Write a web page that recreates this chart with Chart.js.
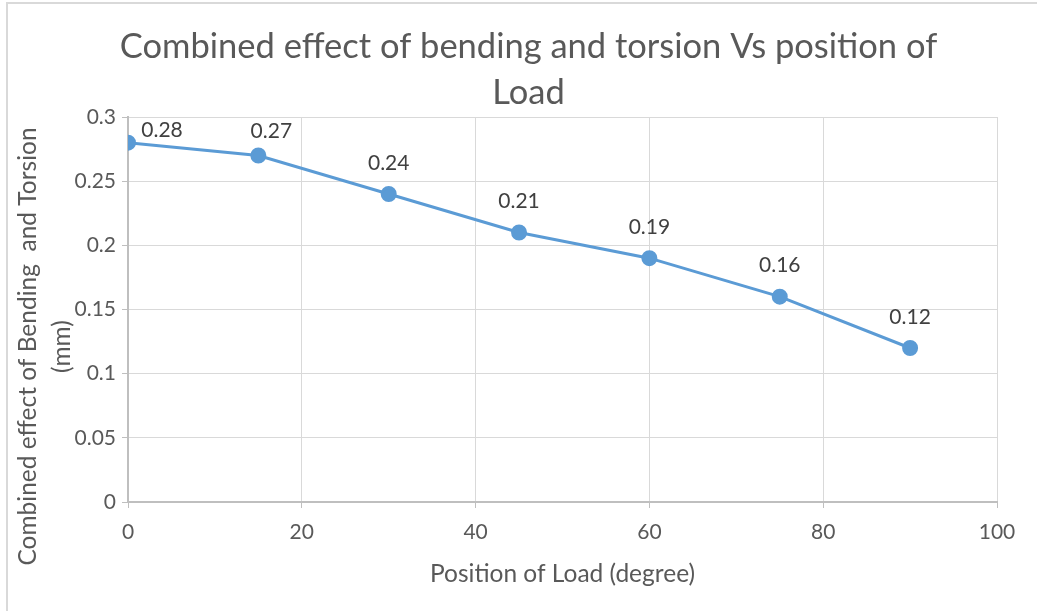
<!DOCTYPE html>
<html>
<head>
<meta charset="utf-8">
<script src="https://cdn.jsdelivr.net/npm/chart.js@4"></script>
<style>
  html, body { margin: 0; padding: 0; background: #fff; }
  #wrap { position: relative; width: 1037px; height: 611px; }
  #frame { position: absolute; left: 6px; top: 2px; right: 0; bottom: 0;
           border-left: 2px solid #d9d9d9; border-top: 2px solid #d9d9d9; }
  canvas { position: absolute; left: 0; top: 0; }
</style>
</head>
<body>
<div id="wrap">
  <div id="frame"></div>
  <canvas id="chart" width="1037" height="611"></canvas>
</div>
<script>
// 하중 위치 (도)
var positions = [0, 15, 30, 45, 60, 75, 90];
// 굽힘+비틀림 복합 영향 (mm)
var deflection = [0.28, 0.27, 0.24, 0.21, 0.19, 0.16, 0.12];

var xTicks = [0, 20, 40, 60, 80, 100];
var yTicks = [0, 0.05, 0.1, 0.15, 0.2, 0.25, 0.3];

var titleLines = ['Combined effect of bending and torsion Vs position of', 'Load'];
var xTitle = 'Position of Load (degree)';
var yTitleLines = ['Combined effect of Bending  and Torsion', '(mm)'];

var fontName = 'Lato, "Open Sans", sans-serif';
var lineColor = '#5B9BD5';

// 점 위 라벨 그리기 (엑셀처럼 위쪽, 앞의 두개는 살짝 옆으로)
const pointLabels = {
    id: 'pointLabels',
    afterDatasetsDraw(chart) {
        var ctx = chart.ctx;
        var meta = chart.getDatasetMeta(0);
        var nudge = [[34, -12], [13, -24]];
        ctx.save();
        ctx.font = '21px ' + fontName;
        ctx.fillStyle = '#404040';
        ctx.textAlign = 'center';
        ctx.textBaseline = 'middle';
        meta.data.forEach(function(pt, i) {
            var dx = nudge[i] ? nudge[i][0] : 0;
            var dy = nudge[i] ? nudge[i][1] : -31;
            ctx.fillText(String(deflection[i]), pt.x + dx, pt.y + dy);
        });
        ctx.restore();
    }
};

// y축 제목 (두줄, 세로)
const yAxisTitle = {
    id: 'yAxisTitle',
    afterDraw(chart) {
        var ctx = chart.ctx;
        var area = chart.chartArea;
        var cy = (area.top + area.bottom) / 2 + 37;
        ctx.save();
        ctx.font = '24.5px ' + fontName;
        ctx.fillStyle = '#595959';
        ctx.textAlign = 'center';
        ctx.textBaseline = 'middle';
        ctx.translate(28, cy);
        ctx.rotate(-Math.PI / 2);
        ctx.fillText(yTitleLines[0], 0, 0);
        ctx.fillText(yTitleLines[1], 0, 34);
        ctx.restore();
    }
};

var ctx = document.getElementById('chart').getContext('2d');
var myChart = new Chart(ctx, {
    type: 'line',
    data: {
        datasets: [{
            data: positions.map(function(x, i) { return { x: x, y: deflection[i] }; }),
            borderColor: lineColor,
            backgroundColor: lineColor,
            borderWidth: 3,
            pointRadius: 6.5,
            pointHoverRadius: 6.5,
            pointBackgroundColor: lineColor,
            pointBorderColor: lineColor,
            tension: 0
        }]
    },
    options: {
        responsive: false,
        animation: false,
        layout: { padding: { left: 60, right: 40, top: 0, bottom: 0 } },
        plugins: {
            legend: { display: false },
            tooltip: { enabled: false },
            title: {
                display: true,
                text: titleLines,
                color: '#595959',
                font: { family: fontName, size: 34.5, weight: 'normal', lineHeight: '46px' },
                padding: { top: 24, bottom: 1 }
            }
        },
        scales: {
            x: {
                type: 'linear',
                min: 0,
                max: 100,
                afterBuildTicks: function(scale) {
                    scale.ticks = xTicks.map(function(v) { return { value: v }; });
                },
                afterFit: function(scale) { scale.height = 109; },
                grid: { color: '#d9d9d9', lineWidth: 1, tickLength: 6, tickColor: '#bfbfbf' },
                border: { color: '#bfbfbf', width: 2 },
                ticks: {
                    color: '#595959',
                    font: { family: fontName, size: 21 },
                    padding: 12,
                    maxRotation: 0
                },
                title: {
                    display: true,
                    text: xTitle,
                    color: '#595959',
                    font: { family: fontName, size: 24.5 },
                    padding: { top: 0, bottom: 22 }
                }
            },
            y: {
                min: 0,
                max: 0.3,
                afterBuildTicks: function(scale) {
                    scale.ticks = yTicks.map(function(v) { return { value: v }; });
                },
                afterFit: function(scale) { scale.width = 68; },
                grid: { color: '#d9d9d9', lineWidth: 1, tickLength: 6, tickColor: '#bfbfbf' },
                border: { color: '#bfbfbf', width: 2 },
                ticks: {
                    color: '#595959',
                    font: { family: fontName, size: 21 },
                    padding: 6,
                    callback: function(v) { return String(+v.toFixed(2)); }
                }
            }
        }
    },
    plugins: [pointLabels, yAxisTitle]
});
</script>
</body>
</html>
